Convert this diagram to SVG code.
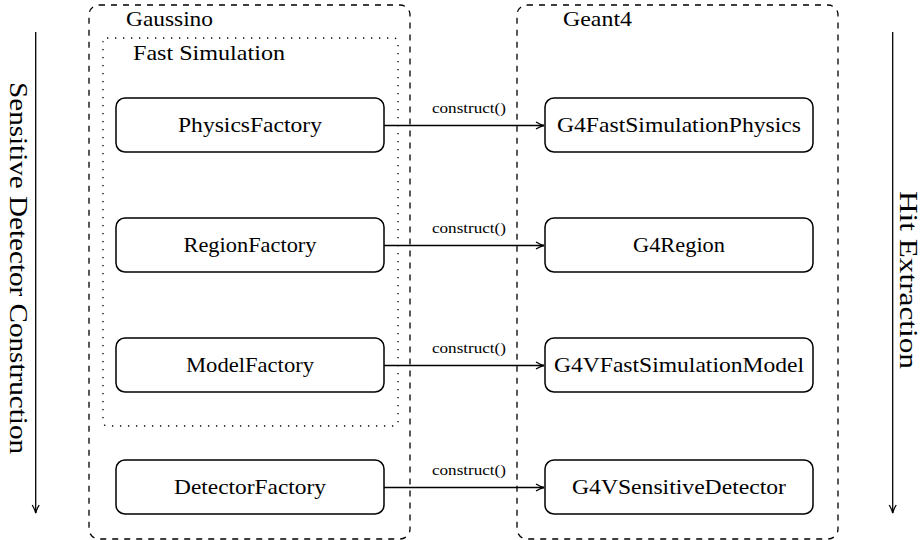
<svg xmlns="http://www.w3.org/2000/svg" width="924" height="540" viewBox="0 0 924 540">
<style>
text{font-family:"Liberation Serif","DejaVu Serif",serif;fill:#000}
.node{fill:#fff;stroke:#000;stroke-width:1.5}
.lbl{font-size:21px;text-anchor:middle}
.outer{fill:none;stroke:#000;stroke-width:1.3;stroke-dasharray:6 6}
.dot{fill:none;stroke:#000;stroke-width:1.3;stroke-dasharray:1.3 6.7}
.conn{stroke:#000;stroke-width:1.3;fill:none}
.small{font-size:15px;text-anchor:middle}
.title{font-size:21px}
.side{font-size:25px;text-anchor:middle}
</style>
<defs>
<marker id="arr" viewBox="0 0 10 10" refX="9" refY="5" markerWidth="10" markerHeight="10" markerUnits="userSpaceOnUse" orient="auto">
<path d="M1,1.5 Q5,4 9,5 Q5,6 1,8.5" fill="none" stroke="#000" stroke-width="1.3"/>
</marker>
</defs>
<g id="gaussino">
<rect class="outer" x="89" y="5" width="321" height="534" rx="10"/>
<text class="title" x="126" y="26" textLength="87" lengthAdjust="spacingAndGlyphs">Gaussino</text>
</g>
<g id="fastsim">
<rect class="dot" x="103" y="38" width="295" height="388" rx="4"/>
<text class="title" x="133" y="60" textLength="152" lengthAdjust="spacingAndGlyphs">Fast Simulation</text>
</g>
<g id="geant4">
<rect class="outer" x="517" y="5" width="321" height="534" rx="10"/>
<text class="title" x="563" y="26" textLength="69" lengthAdjust="spacingAndGlyphs">Geant4</text>
</g>
<g id="PhysicsFactory"><rect class="node" x="116" y="98" width="268" height="54" rx="9"/><text class="lbl" x="250" y="132" textLength="144" lengthAdjust="spacingAndGlyphs">PhysicsFactory</text></g>
<g id="RegionFactory"><rect class="node" x="116" y="218" width="268" height="54" rx="9"/><text class="lbl" x="250" y="252" textLength="133" lengthAdjust="spacingAndGlyphs">RegionFactory</text></g>
<g id="ModelFactory"><rect class="node" x="116" y="338" width="268" height="54" rx="9"/><text class="lbl" x="250" y="372" textLength="128" lengthAdjust="spacingAndGlyphs">ModelFactory</text></g>
<g id="DetectorFactory"><rect class="node" x="116" y="460" width="268" height="54" rx="9"/><text class="lbl" x="250" y="494" textLength="152" lengthAdjust="spacingAndGlyphs">DetectorFactory</text></g>
<g id="G4FastSimulationPhysics"><rect class="node" x="545" y="98" width="268" height="54" rx="9"/><text class="lbl" x="679" y="132" textLength="244" lengthAdjust="spacingAndGlyphs">G4FastSimulationPhysics</text></g>
<g id="G4Region"><rect class="node" x="545" y="218" width="268" height="54" rx="9"/><text class="lbl" x="679" y="252" textLength="92" lengthAdjust="spacingAndGlyphs">G4Region</text></g>
<g id="G4VFastSimulationModel"><rect class="node" x="545" y="338" width="268" height="54" rx="9"/><text class="lbl" x="679" y="372" textLength="250" lengthAdjust="spacingAndGlyphs">G4VFastSimulationModel</text></g>
<g id="G4VSensitiveDetector"><rect class="node" x="545" y="460" width="268" height="54" rx="9"/><text class="lbl" x="679" y="494" textLength="214" lengthAdjust="spacingAndGlyphs">G4VSensitiveDetector</text></g>
<g id="connectors">
<line class="conn" x1="384" y1="125.5" x2="544" y2="125.5" marker-end="url(#arr)"/>
<line class="conn" x1="384" y1="245.5" x2="544" y2="245.5" marker-end="url(#arr)"/>
<line class="conn" x1="384" y1="365.5" x2="544" y2="365.5" marker-end="url(#arr)"/>
<line class="conn" x1="384" y1="487.5" x2="544" y2="487.5" marker-end="url(#arr)"/>
<text class="small" x="469" y="113" textLength="74" lengthAdjust="spacingAndGlyphs">construct()</text>
<text class="small" x="469" y="233" textLength="74" lengthAdjust="spacingAndGlyphs">construct()</text>
<text class="small" x="469" y="353" textLength="74" lengthAdjust="spacingAndGlyphs">construct()</text>
<text class="small" x="469" y="475" textLength="74" lengthAdjust="spacingAndGlyphs">construct()</text>
<line class="conn" x1="35.7" y1="32" x2="35.7" y2="513" marker-end="url(#arr)"/>
<line class="conn" x1="892.7" y1="32" x2="892.7" y2="513" marker-end="url(#arr)"/>
</g>
<g id="side-labels">
<text class="side" transform="translate(9.5,268) rotate(90)" textLength="372" lengthAdjust="spacingAndGlyphs">Sensitive Detector Construction</text>
<text class="side" transform="translate(900,280) rotate(90)" textLength="178" lengthAdjust="spacingAndGlyphs">Hit Extraction</text>
</g>
</svg>
